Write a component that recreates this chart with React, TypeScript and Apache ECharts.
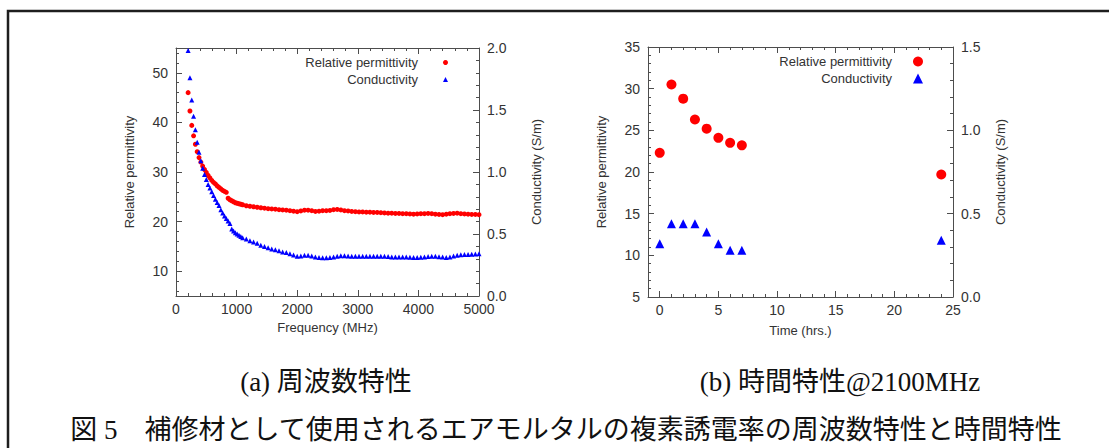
import React, { useEffect, useRef } from 'react';
import * as echarts from 'echarts';

// ---------- (a) frequency characteristics ----------
const FREQ_MHZ = [
  200, 230, 260, 290, 320, 350, 380, 410, 440, 470, 500, 530, 560, 590, 620, 650,
  680, 710, 740, 770, 800, 830, 860, 890, 920, 950, 980, 1010, 1040, 1070, 1100,
  1160, 1220, 1280, 1340, 1400, 1460, 1520, 1580, 1640, 1700, 1760, 1820, 1880, 1940, 2000,
  2060, 2120, 2180, 2240, 2300, 2360, 2420, 2480, 2540, 2600, 2660, 2720, 2780, 2840, 2900,
  2960, 3020, 3080, 3140, 3200, 3260, 3320, 3380, 3440, 3500, 3560, 3620, 3680, 3740, 3800,
  3860, 3920, 3980, 4040, 4100, 4160, 4220, 4280, 4340, 4400, 4460, 4520, 4580, 4640, 4700,
  4760, 4820, 4880, 4940, 5000,
];

const PERMITTIVITY_F = [
  46.0, 42.3, 39.4, 37.3, 35.6, 34.1, 32.9, 32.0, 31.2, 30.5, 29.9, 29.3, 28.8, 28.3, 27.9, 27.6,
  27.2, 26.9, 26.6, 26.3, 26.1, 25.9, 24.7, 24.4, 24.2, 24.0, 23.8, 23.7, 23.6, 23.5, 23.4,
  23.2, 23.1, 23.0, 22.9, 22.8, 22.7, 22.6, 22.55, 22.5, 22.4, 22.35, 22.3, 22.2, 22.1, 22.0,
  22.15, 22.3, 22.3, 22.2, 22.05, 22.1, 22.2, 22.2, 22.25, 22.4, 22.45, 22.35, 22.2, 22.15, 22.05,
  22.0, 21.95, 21.95, 21.9, 21.9, 21.85, 21.85, 21.8, 21.75, 21.7, 21.7, 21.65, 21.65, 21.6, 21.6,
  21.55, 21.5, 21.55, 21.6, 21.6, 21.65, 21.6, 21.5, 21.45, 21.4, 21.5, 21.6, 21.65, 21.7, 21.6,
  21.55, 21.5, 21.45, 21.45, 21.4,
];

const CONDUCTIVITY_F = [
  1.98, 1.76, 1.58, 1.45, 1.34, 1.24, 1.16, 1.09, 1.03, 0.98, 0.94, 0.9, 0.87, 0.84, 0.81, 0.78,
  0.755, 0.73, 0.695, 0.67, 0.645, 0.625, 0.605, 0.585, 0.54, 0.525, 0.51, 0.5, 0.49, 0.48, 0.47,
  0.46, 0.445, 0.435, 0.425, 0.41, 0.4, 0.39, 0.38, 0.372, 0.365, 0.355, 0.35, 0.34, 0.33, 0.32,
  0.322, 0.328, 0.328, 0.322, 0.315, 0.31, 0.308, 0.308, 0.31, 0.315, 0.32, 0.325, 0.325, 0.322, 0.32,
  0.32, 0.32, 0.32, 0.32, 0.32, 0.32, 0.32, 0.32, 0.32, 0.318, 0.315, 0.315, 0.315, 0.315, 0.315,
  0.313, 0.31, 0.31, 0.313, 0.315, 0.318, 0.32, 0.32, 0.316, 0.314, 0.31, 0.314, 0.322, 0.328, 0.332,
  0.334, 0.335, 0.337, 0.338, 0.34,
];

// ---------- (b) time characteristics @2100MHz ----------
const TIME_HRS = [0, 1, 2, 3, 4, 5, 6, 7, 24];
const PERMITTIVITY_T = [22.3, 30.5, 28.8, 26.3, 25.2, 24.1, 23.5, 23.2, 19.7];
const CONDUCTIVITY_T = [0.32, 0.44, 0.44, 0.44, 0.39, 0.32, 0.28, 0.28, 0.34];

// ---------- ticks ----------
const EPS_F_LABEL_TICKS = [10, 20, 30, 40, 50];
const EPS_F_MINOR_TICKS = [6, 8, 12, 14, 16, 18, 22, 24, 26, 28, 32, 34, 36, 38, 42, 44, 46, 48, 52, 54];
const TIME_LABEL_TICKS = [0, 5, 10, 15, 20, 25];
const TIME_MINOR_TICKS = [1, 2, 3, 4, 6, 7, 8, 9, 11, 12, 13, 14, 16, 17, 18, 19, 21, 22, 23, 24];

const CAPTION_A = '(a) 周波数特性';
const CAPTION_B = '(b) 時間特性@2100MHz';
const CAPTION_MAIN = '図 5　補修材として使用されるエアモルタルの複素誘電率の周波数特性と時間特性';

const NAME_EPS = 'Relative permittivity';
const NAME_SIGMA = 'Conductivity';

const AX = '#4d4d4d';
const TXT = '#333333';
const FONT = '"Liberation Sans", Arial, sans-serif';
const CAP_FONT = '"Liberation Serif", "Noto Sans CJK JP", serif';
const RED = '#ff0000';
const BLUE = '#0000ff';

const labelStyle = { color: TXT, fontSize: 14, fontFamily: FONT };
const nameStyle = { color: TXT, fontSize: 13, fontFamily: FONT };

function mainAxis(o: any): any {
  return {
    type: 'value',
    splitLine: { show: false },
    axisLine: { show: true, onZero: false, lineStyle: { color: AX, width: 1 } },
    axisTick: { show: true, inside: true, length: 6, lineStyle: { color: AX }, ...(o.tick || {}) },
    minorTick: o.minor
      ? { show: true, splitNumber: o.minor, length: 3, lineStyle: { color: AX } }
      : { show: false },
    axisLabel: { ...labelStyle, ...(o.label || {}) },
    nameTextStyle: nameStyle,
    gridIndex: o.gridIndex,
    position: o.position,
    min: o.min,
    max: o.max,
    interval: o.interval,
    name: o.name,
    nameLocation: 'middle',
    nameGap: o.nameGap,
    nameRotate: o.nameRotate,
  };
}

function minorTwin(gridIndex: number, position: string, min: number, max: number, values: number[]): any {
  return {
    type: 'value',
    gridIndex,
    position,
    min,
    max,
    splitLine: { show: false },
    axisLine: { show: false, onZero: false },
    axisLabel: { show: false },
    axisTick: { show: true, inside: true, length: 3, customValues: values, lineStyle: { color: AX } },
  };
}

const plain = (v: number) => String(v);
const oneDec = (v: number) => v.toFixed(1);

export default function App() {
  const ref = useRef<HTMLDivElement>(null);

  useEffect(() => {
    if (!ref.current) return;
    const chart = echarts.init(ref.current, null, { renderer: 'svg' });

    const epsF = FREQ_MHZ.slice(0, PERMITTIVITY_F.length).map((f, i) => [f, PERMITTIVITY_F[i]]);
    const sigF = FREQ_MHZ.slice(0, CONDUCTIVITY_F.length).map((f, i) => [f, CONDUCTIVITY_F[i]]);
    const epsT = TIME_HRS.map((t, i) => [t, PERMITTIVITY_T[i]]);
    const sigT = TIME_HRS.map((t, i) => [t, CONDUCTIVITY_T[i]]);

    const legendBase = {
      orient: 'vertical',
      align: 'right',
      padding: 0,
      selectedMode: false,
      data: [
        { name: NAME_EPS, icon: 'circle' },
        { name: NAME_SIGMA, icon: 'triangle' },
      ],
    };

    chart.setOption({
      animation: false,
      backgroundColor: '#ffffff',
      textStyle: { fontFamily: FONT },
      grid: [
        { left: 176, top: 48, width: 303, height: 248 },
        { left: 648, top: 47, width: 305, height: 250 },
      ],
      xAxis: [
        mainAxis({
          gridIndex: 0, position: 'bottom', min: 0, max: 5000, interval: 1000, minor: 5,
          name: 'Frequency (MHz)', nameGap: 25, label: { margin: 6, formatter: plain },
        }),
        mainAxis({
          gridIndex: 0, position: 'top', min: 0, max: 5000, interval: 1000, minor: 5,
          label: { show: false },
        }),
        mainAxis({
          gridIndex: 1, position: 'bottom', min: -1, max: 25,
          name: 'Time (hrs.)', nameGap: 27,
          label: { margin: 6, customValues: TIME_LABEL_TICKS, formatter: plain },
          tick: { customValues: TIME_LABEL_TICKS },
        }),
        mainAxis({
          gridIndex: 1, position: 'top', min: -1, max: 25,
          label: { show: false },
          tick: { customValues: TIME_LABEL_TICKS },
        }),
        minorTwin(1, 'bottom', -1, 25, TIME_MINOR_TICKS),
        minorTwin(1, 'top', -1, 25, TIME_MINOR_TICKS),
      ],
      yAxis: [
        mainAxis({
          gridIndex: 0, position: 'left', min: 5, max: 55,
          name: 'Relative permittivity', nameGap: 40, nameRotate: 90,
          label: { margin: 8, customValues: EPS_F_LABEL_TICKS, formatter: plain },
          tick: { customValues: EPS_F_LABEL_TICKS },
        }),
        mainAxis({
          gridIndex: 0, position: 'right', min: 0, max: 2, interval: 0.5, minor: 5,
          name: 'Conductivity (S/m)', nameGap: 51, nameRotate: 90,
          label: { margin: 8, formatter: oneDec },
        }),
        minorTwin(0, 'left', 5, 55, EPS_F_MINOR_TICKS),
        mainAxis({
          gridIndex: 1, position: 'left', min: 5, max: 35, interval: 5, minor: 5,
          name: 'Relative permittivity', nameGap: 40, nameRotate: 90,
          label: { margin: 8, formatter: plain },
        }),
        mainAxis({
          gridIndex: 1, position: 'right', min: 0, max: 1.5, interval: 0.5, minor: 5,
          name: 'Conductivity (S/m)', nameGap: 41, nameRotate: 90,
          label: { margin: 8, formatter: oneDec },
        }),
      ],
      legend: [
        {
          ...legendBase, right: 661, top: 56, itemGap: 4, itemWidth: 5, itemHeight: 5,
          textStyle: { color: TXT, fontSize: 13, fontFamily: FONT, padding: [0, 20, 0, 0] },
        },
        {
          ...legendBase, right: 186, top: 55, itemGap: 4, itemWidth: 10, itemHeight: 10,
          textStyle: { color: TXT, fontSize: 13, fontFamily: FONT, padding: [0, 16, 0, 0] },
        },
      ],
      series: [
        {
          name: NAME_EPS, type: 'scatter', xAxisIndex: 0, yAxisIndex: 0,
          symbol: 'circle', symbolSize: 5, itemStyle: { color: RED, opacity: 1 }, data: epsF,
        },
        {
          name: NAME_SIGMA, type: 'scatter', xAxisIndex: 0, yAxisIndex: 1,
          symbol: 'triangle', symbolSize: 5, itemStyle: { color: BLUE, opacity: 1 }, data: sigF,
        },
        {
          name: NAME_EPS, type: 'scatter', xAxisIndex: 2, yAxisIndex: 3,
          symbol: 'circle', symbolSize: 10, itemStyle: { color: RED, opacity: 1 }, data: epsT,
        },
        {
          name: NAME_SIGMA, type: 'scatter', xAxisIndex: 2, yAxisIndex: 4,
          symbol: 'triangle', symbolSize: 9, itemStyle: { color: BLUE, opacity: 1 }, data: sigT,
        },
      ],
      graphic: [
        {
          type: 'rect', silent: true,
          shape: { x: 8, y: 11, width: 1130, height: 470 },
          style: { fill: 'none', stroke: '#1e1e1e', lineWidth: 2.5 },
        },
        {
          type: 'text', x: 326, y: 382, silent: true,
          style: {
            text: CAPTION_A, fontSize: 27, fontFamily: CAP_FONT,
            fill: '#111', align: 'center', verticalAlign: 'middle',
          },
        },
        {
          type: 'text', x: 840, y: 382, silent: true,
          style: {
            text: CAPTION_B, fontSize: 27, fontFamily: CAP_FONT,
            fill: '#111', align: 'center', verticalAlign: 'middle',
          },
        },
        {
          type: 'text', x: 566, y: 430, silent: true,
          style: {
            text: CAPTION_MAIN, fontSize: 27, fontFamily: CAP_FONT,
            fill: '#111', align: 'center', verticalAlign: 'middle',
          },
        },
      ],
    });

    return () => chart.dispose();
  }, []);

  return (
    <div
      ref={ref}
      style={{ position: 'absolute', left: 0, top: 0, width: 1109, height: 448 }}
    />
  );
}
